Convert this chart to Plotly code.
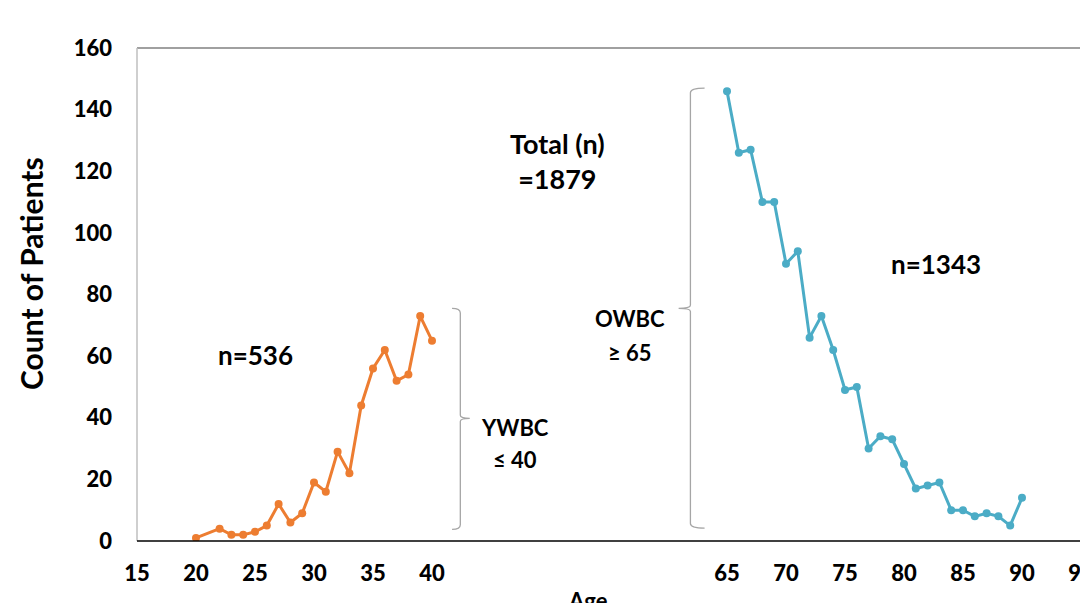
import plotly.graph_objects as go

young_ages = [20, 22, 23, 24, 25, 26, 27, 28, 29, 30, 31, 32, 33, 34, 35, 36, 37, 38, 39, 40]
young_counts = [1, 4, 2, 2, 3, 5, 12, 6, 9, 19, 16, 29, 22, 44, 56, 62, 52, 54, 73, 65]

old_ages = list(range(65, 91))
old_counts = [146, 126, 127, 110, 110, 90, 94, 66, 73, 62, 49, 50, 30, 34, 33, 25,
              17, 18, 19, 10, 10, 8, 9, 8, 5, 14]

x_ticks = [15, 20, 25, 30, 35, 40, 65, 70, 75, 80, 85, 90, 95]
y_ticks = [0, 20, 40, 60, 80, 100, 120, 140, 160]

FONT = "Lato"
fig = go.Figure()
fig.add_trace(go.Scatter(x=young_ages, y=young_counts, mode="lines+markers",
                         line=dict(color="#ED7D31", width=3),
                         marker=dict(color="#ED7D31", size=8), showlegend=False))
fig.add_trace(go.Scatter(x=old_ages, y=old_counts, mode="lines+markers",
                         line=dict(color="#4BACC6", width=3),
                         marker=dict(color="#4BACC6", size=8), showlegend=False))

# page has an 8px body margin; plot area on screen: x 137..1081, y 48..541
OFF = 8
W, H = 1088 - OFF, 603 - OFF
PL, PR, PT, PB = 137, 1081, 48, 541
L, R, T, B = PL - OFF, (W + OFF) - PR, PT - OFF, (H + OFF) - PB

fig.update_layout(
    width=W, height=H,
    margin=dict(l=L, r=R, t=T, b=B, autoexpand=False),
    plot_bgcolor="white", paper_bgcolor="white",
    font=dict(family=FONT, color="black"),
    xaxis=dict(range=[15, 95], tickvals=x_ticks, ticktext=[str(v) for v in x_ticks],
               showgrid=False, zeroline=False, showline=False, ticks="",
               tickfont=dict(family=FONT, size=22, color="black", weight=900),
               ticklabelstandoff=17, ticklabeloverflow="allow"),
    yaxis=dict(range=[0, 160], tickvals=y_ticks, showgrid=False, zeroline=False,
               showline=False, ticks="",
               tickfont=dict(family=FONT, size=22, color="black", weight=900),
               ticklabelstandoff=24),
)

# plot frame
fig.add_shape(type="line", xref="paper", yref="paper", x0=0, x1=1, y0=1, y1=1,
              line=dict(color="#808080", width=1.5))
fig.add_shape(type="line", xref="paper", yref="paper", x0=0, x1=0, y0=0, y1=1,
              line=dict(color="#BFBFBF", width=1.5))
fig.add_shape(type="line", xref="paper", yref="paper", x0=1, x1=1, y0=0, y1=1,
              line=dict(color="#262626", width=1.5))
fig.add_shape(type="line", xref="paper", yref="paper", x0=0, x1=1, y0=0, y1=0,
              line=dict(color="black", width=1.5))

# braces (data coords)
def brace_right(x, y0, y1, ym, w, tip):
    return (f"M {x - w},{y1} Q {x},{y1} {x},{y1 - 1.5} L {x},{ym + 1} "
            f"Q {x},{ym} {x + tip},{ym} Q {x},{ym} {x},{ym - 1} "
            f"L {x},{y0 + 1.5} Q {x},{y0} {x - w},{y0}")

def brace_left(x, y0, y1, ym, w, tip):
    return (f"M {x + w},{y1} Q {x},{y1} {x},{y1 - 1.5} L {x},{ym + 1} "
            f"Q {x},{ym} {x - tip},{ym} Q {x},{ym} {x},{ym - 1} "
            f"L {x},{y0 + 1.5} Q {x},{y0} {x + w},{y0}")

fig.add_shape(type="path", xref="x", yref="y",
              path=brace_right(42.4, 3.8, 75.5, 39.8, 0.7, 0.8),
              line=dict(color="#A6A6A6", width=1.3))
fig.add_shape(type="path", xref="x", yref="y",
              path=brace_left(61.9, 4.2, 147.0, 75.5, 1.2, 1.0),
              line=dict(color="#A6A6A6", width=1.3))

def px(xs):
    return (xs - PL) / (PR - PL)

def py(ys):
    return (PB - ys) / (PB - PT)

def ann(x, y, text, size=22, angle=0):
    fig.add_annotation(x=px(x), y=py(y), xref="paper", yref="paper", text=text,
                       showarrow=False, textangle=angle,
                       font=dict(family=FONT, size=size, color="black", weight="bold"),
                       xanchor="center", yanchor="middle", align="center")

ann(255, 355, "n=536", size=26)
ann(936, 264, "n=1343", size=26)
ann(557, 161, "Total (n)<br>=1879", size=27)
ann(630, 319, "OWBC", size=22)
ann(630, 352, "≥ 65", size=22)
ann(515, 427, "YWBC", size=22)
ann(515, 460, "≤ 40", size=22)
ann(588, 600, "Age", size=22)
ann(31, 274, "Count of Patients", size=30, angle=-90)

fig.write_html("out.html")
